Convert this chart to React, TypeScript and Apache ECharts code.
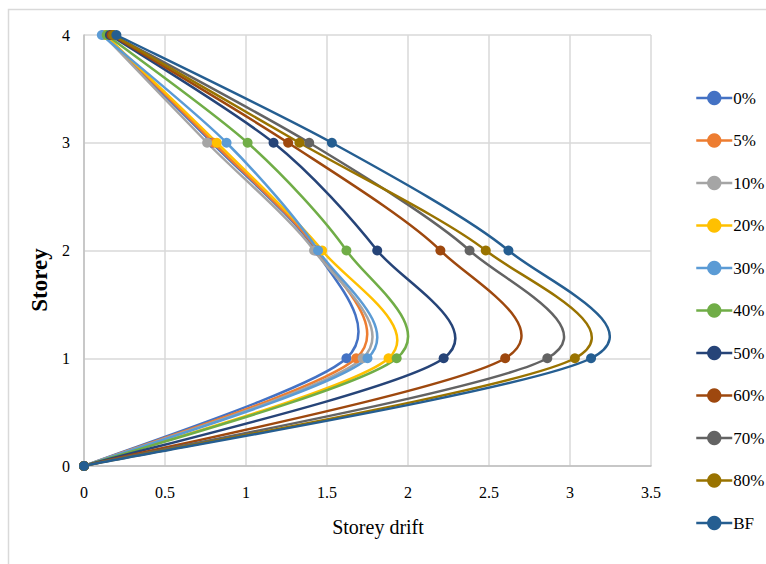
import React, { useEffect, useRef } from "react";
import * as echarts from "echarts";

const storeys = [0, 1, 2, 3, 4];
const seriesNames = ["0%", "5%", "10%", "20%", "30%", "40%", "50%", "60%", "70%", "80%", "BF"];
const seriesColors = ["#4472C4", "#ED7D31", "#A5A5A5", "#FFC000", "#5B9BD5", "#70AD47", "#264478", "#9E480E", "#636363", "#997300", "#255E91"];

const drift0 = [0, 1.62, 1.43, 0.79, 0.12];
const drift5 = [0, 1.68, 1.44, 0.8, 0.13];
const drift10 = [0, 1.72, 1.42, 0.76, 0.12];
const drift20 = [0, 1.88, 1.47, 0.82, 0.13];
const drift30 = [0, 1.75, 1.445, 0.88, 0.11];
const drift40 = [0, 1.93, 1.62, 1.01, 0.14];
const drift50 = [0, 2.22, 1.81, 1.17, 0.16];
const drift60 = [0, 2.6, 2.2, 1.26, 0.17];
const drift70 = [0, 2.86, 2.38, 1.39, 0.18];
const drift80 = [0, 3.03, 2.48, 1.33, 0.18];
const driftBF = [0, 3.13, 2.62, 1.53, 0.2];

const allDrifts = [drift0, drift5, drift10, drift20, drift30, drift40, drift50, drift60, drift70, drift80, driftBF];

const xTicks = { min: 0, max: 3.5, interval: 0.5 };
const yTicks = { min: 0, max: 4, interval: 1 };

const FONT = "'Liberation Serif', 'Times New Roman', serif";
const TENSION = 0.145;

function smoothPath(pts: number[][]): string {
  const n = pts.length;
  let d = `M${pts[0][0]},${pts[0][1]}`;
  for (let i = 0; i < n - 1; i++) {
    const p0 = pts[Math.max(0, i - 1)];
    const p1 = pts[i];
    const p2 = pts[i + 1];
    const p3 = pts[Math.min(n - 1, i + 2)];
    const c1x = p1[0] + (p2[0] - p0[0]) * TENSION;
    const c1y = p1[1] + (p2[1] - p0[1]) * TENSION;
    const c2x = p2[0] - (p3[0] - p1[0]) * TENSION;
    const c2y = p2[1] - (p3[1] - p1[1]) * TENSION;
    d += ` C${c1x},${c1y} ${c2x},${c2y} ${p2[0]},${p2[1]}`;
  }
  return d;
}

export default function App() {
  const ref = useRef<HTMLDivElement>(null);
  useEffect(() => {
    if (!ref.current) return;
    const chart = echarts.init(ref.current, null, { renderer: "svg" });
    const curveSeries = seriesNames.map((name, i) => ({
      name: "curve-" + name,
      type: "custom",
      coordinateSystem: "cartesian2d",
      data: storeys.map((s, j) => [allDrifts[i][j], s]),
      encode: { x: 0, y: 1 },
      z: 2 + i,
      silent: true,
      renderItem: (params: any, api: any) => {
        if (params.dataIndex !== 0) return null;
        const pts = storeys.map((s, j) => api.coord([allDrifts[i][j], s]));
        return {
          type: "path",
          shape: { pathData: smoothPath(pts) },
          style: { fill: "none", stroke: seriesColors[i], lineWidth: 2.5 },
        };
      },
    }));
    const pointSeries = seriesNames.map((name, i) => ({
      name,
      type: "line",
      data: storeys.map((s, j) => [allDrifts[i][j], s]),
      symbol: "circle",
      symbolSize: 10,
      color: seriesColors[i],
      lineStyle: { width: 2.5, color: seriesColors[i], opacity: 0 },
      itemStyle: { color: seriesColors[i] },
      z: 20 + i,
    }));
    chart.setOption({
      animation: false,
      backgroundColor: "#ffffff",
      textStyle: { fontFamily: FONT, color: "#000" },
      grid: { left: 84, right: 115, top: 35, bottom: 98, containLabel: false },
      graphic: [
        {
          type: "rect",
          shape: { x: 8.5, y: 9.5, width: 800, height: 600 },
          style: { fill: "none", stroke: "#D9D9D9", lineWidth: 1.5 },
          silent: true,
        },
        {
          type: "text",
          x: 378,
          y: 527,
          style: { text: "Storey drift", fontFamily: FONT, fontSize: 20, fill: "#000", align: "center", verticalAlign: "middle" },
        },
        {
          type: "text",
          x: 39,
          y: 280,
          rotation: Math.PI / 2,
          style: { text: "Storey", fontFamily: FONT, fontSize: 23, fontWeight: "bold", fill: "#000", align: "center", verticalAlign: "middle" },
        },
      ],
      legend: {
        orient: "vertical",
        left: 690,
        top: 84,
        itemGap: 24.5,
        itemWidth: 36,
        itemHeight: 18,
        data: seriesNames,
        lineStyle: { width: 2.5, opacity: 1 },
        textStyle: { fontFamily: FONT, fontSize: 17, color: "#000", padding: [0, 0, 0, -4], lineHeight: 18 },
      },
      xAxis: {
        type: "value",
        min: xTicks.min,
        max: xTicks.max,
        interval: xTicks.interval,
        axisLine: { show: true, lineStyle: { color: "#BFBFBF", width: 1.5 } },
        axisTick: { show: false },
        splitLine: { show: true, lineStyle: { color: "#D9D9D9", width: 1.5 } },
        axisLabel: { fontFamily: FONT, fontSize: 16, color: "#000", margin: 18 },
      },
      yAxis: {
        type: "value",
        min: yTicks.min,
        max: yTicks.max,
        interval: yTicks.interval,
        axisLine: { show: true, lineStyle: { color: "#BFBFBF", width: 1.5 } },
        axisTick: { show: false },
        splitLine: { show: true, lineStyle: { color: "#D9D9D9", width: 1.5 } },
        axisLabel: { fontFamily: FONT, fontSize: 16, color: "#000", margin: 14 },
      },
      series: [...curveSeries, ...pointSeries],
    });
    return () => chart.dispose();
  }, []);
  return <div ref={ref} style={{ position: "fixed", left: 0, top: 0, width: 766, height: 564 }} />;
}
